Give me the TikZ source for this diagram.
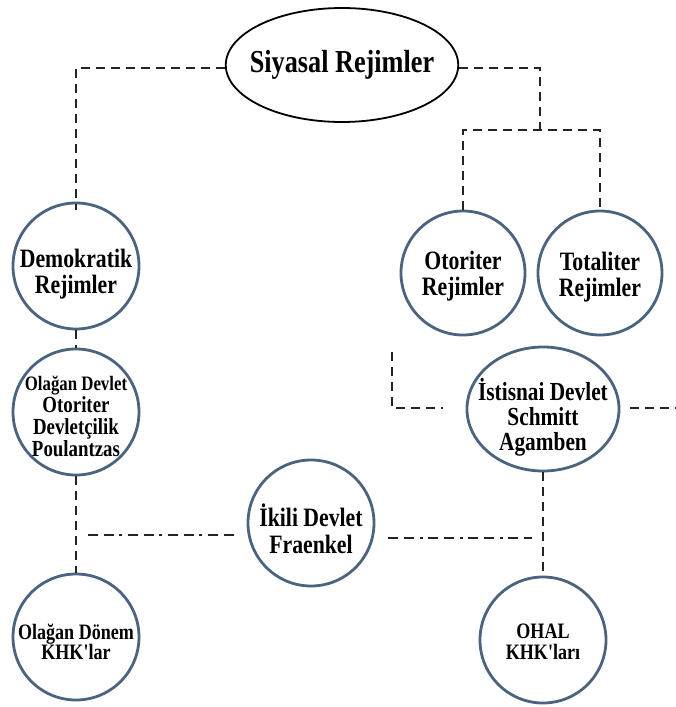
\documentclass[tikz,border=0pt]{standalone}
\usepackage{fontspec}
\setmainfont{Liberation Serif}[FakeStretch=0.82]
\newfontfamily\plainserif{Liberation Serif}[FakeStretch=0.82]
\usetikzlibrary{shapes.geometric}
\definecolor{ringblue}{RGB}{74,100,128}
\definecolor{dashgray}{RGB}{35,35,35}
\newcommand{\apos}{{\plainserif\bfseries '}}
\tikzset{
  ring/.style={circle, draw=ringblue, line width=2.8pt, minimum size=126pt, inner sep=0pt},
  oval/.style={ellipse, draw=ringblue, line width=2.8pt, inner sep=0pt},
  txt/.style={inner sep=0pt, align=center, font=\bfseries\fontsize{26.5}{26.5}\selectfont},
  conn/.style={draw=dashgray, line width=2.4pt, dash pattern=on 9pt off 6pt},
  dconn/.style={draw=dashgray, line width=2.4pt, dash pattern=on 10pt off 6pt on 10pt off 6pt on 3pt off 5pt},
}
\begin{document}
\begin{tikzpicture}[x=1pt,y=-1pt]
\useasboundingbox[fill=white] (0,0) rectangle (676,707);

\node[ellipse, draw=black, line width=1.8pt, minimum width=214pt, minimum height=114pt, inner sep=-10pt,
  font=\bfseries\fontsize{32}{32}\selectfont] (sr) at (342,65) {Siyasal Rejimler};

\node[ring] (dem) at (76,266) {};
\node[txt] (demt) at ([yshift=-8pt]dem.center) {Demokratik\\Rejimler};
\node[ring, minimum size=124pt] (oto) at (463,273) {};
\node[txt] (otot) at ([yshift=-3pt]oto.center) {Otoriter\\Rejimler};
\node[ring, minimum size=124pt] (tot) at (600,273) {};
\node[txt] (tott) at ([yshift=-4pt]tot.center) {Totaliter\\Rejimler};
\node[ring] (old) at (76,412) {};
\node[txt, font=\bfseries\fontsize{23}{22}\selectfont] (oldt) at ([yshift=-4pt]old.center)
  {{\fontsize{20.5}{22}\selectfont Olağan Devlet}\\Otoriter\\Devletçilik\\Poulantzas};
\node[oval, minimum width=152pt, minimum height=124pt] (ist) at (543,409) {};
\node[txt, font=\bfseries\fontsize{26}{25}\selectfont] (istt) at ([yshift=-8pt]ist.center) {İstisnai Devlet\\Schmitt\\Agamben};
\node[ring] (iki) at (311,523) {};
\node[txt] (ikit) at ([yshift=-6pt]iki.center) {İkili Devlet\\Fraenkel};
\node[ring] (odk) at (76,637) {};
\node[txt, font=\bfseries\fontsize{22}{20.5}\selectfont] (odkt) at ([yshift=-5pt]odk.center) {Olağan Dönem\\KHK\apos lar};
\node[ring] (ohal) at (543,640) {};
\node[txt, font=\bfseries\fontsize{22}{20.5}\selectfont] (ohalt) at ([yshift=-2pt]ohal.center) {OHAL\\KHK\apos ları};

% top connectors
\coordinate (lt) at (76,68);
\coordinate (rt) at (540,68);
\coordinate (rj) at (540,130);
\draw[conn] (sr.west |- lt) -- (lt) -- ([yshift=-8pt]dem.north);
\draw[conn] (sr.east |- rt) -- (rt) -- (rj);
\draw[conn] (oto.north) |- (rj) -| (tot.north);

% vertical links
\draw[conn] (dem.south) -- (old.north);
\draw[conn] (old.south) -- (odk.north);
\draw[conn] (ist.south) -- (ohal.north);

% ikili links
\coordinate (l1) at (88,535);
\coordinate (r1) at (532,538);
\draw[dconn, shorten <=13pt] (l1 -| iki.west) -- (l1);
\draw[dconn, shorten <=13pt] (r1 -| iki.east) -- (r1);

% istisnai stubs
\coordinate (s1) at (392,352);
\coordinate (s2) at (443,408);
\coordinate (s3) at (676,408);
\draw[conn] (s1) |- (s2);
\draw[conn] ([xshift=10pt]ist.east |- s3) -- (s3);
\end{tikzpicture}
\end{document}
